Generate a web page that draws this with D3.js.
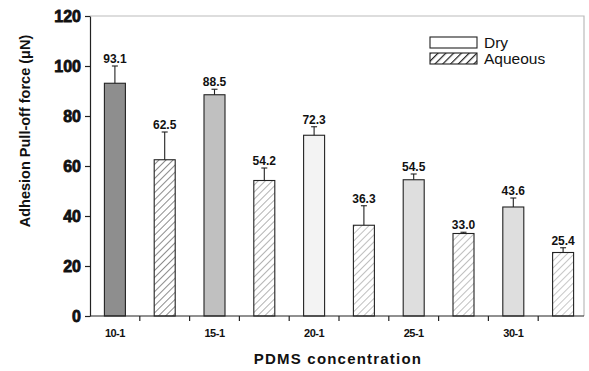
<!DOCTYPE html>
<html>
<head>
<meta charset="utf-8">
<script src="https://cdn.jsdelivr.net/npm/d3@7/dist/d3.min.js"></script>
<style>
  body { margin: 0; background: #fff; }
  svg { display: block; }
  text { font-family: "Liberation Sans", Arial, sans-serif; fill: #111; }
</style>
</head>
<body>
<svg id="chart" width="589" height="371"></svg>
<script>
// data
const concentrations = ["10-1", "15-1", "20-1", "25-1", "30-1"];
const dryValues = [93.1, 88.5, 72.3, 54.5, 43.6];
const dryErrors = [6.9, 2.2, 3.4, 2.3, 3.6];
const aqueousValues = [62.5, 54.2, 36.3, 33.0, 25.4];
const aqueousErrors = [11.1, 5.0, 7.8, 0.5, 1.9];
const yTicks = [0, 20, 40, 60, 80, 100, 120];
const seriesNames = ["Dry", "Aqueous"];

// styles
const dryFills = ["#8e8e8e", "#c0c0c0", "#f3f3f3", "#dedede", "#dedede"];
const hatchInk = ["#666", "#999", "#aaa", "#aaa", "#b4b4b4"];

const svg = d3.select("#chart");
const plotL = 90, plotR = 588, plotT = 16, plotB = 316;

// flatten into bar rows: dry then aqueous for each concentration
const bars = [];
concentrations.forEach((c, i) => {
  bars.push({ key: c + "-dry", type: "dry", i, value: dryValues[i], err: dryErrors[i] });
  bars.push({ key: c + "-aq", type: "aq", i, value: aqueousValues[i], err: aqueousErrors[i] });
});

const x = d3.scaleBand().domain(bars.map(d => d.key)).range([plotL, plotR]);
const y = d3.scaleLinear().domain([0, 120]).range([plotB, plotT]);
const barW = 21;

// hatch patterns
const defs = svg.append("defs");
function hatch(id, col, w, gap) {
  const p = defs.append("pattern")
    .attr("id", id)
    .attr("patternUnits", "userSpaceOnUse")
    .attr("width", gap).attr("height", gap)
    .attr("patternTransform", "rotate(45)");
  p.append("rect").attr("width", gap).attr("height", gap).attr("fill", "#fff");
  p.append("line").attr("x1", 0).attr("y1", 0).attr("x2", 0).attr("y2", gap)
    .attr("stroke", col).attr("stroke-width", w);
}
hatchInk.forEach((col, i) => hatch("hatch" + i, col, 1.5, 5));
hatch("hatchLegend", "#222", 2.4, 5.5);

// frame: top and right
svg.append("path")
  .attr("d", `M${plotL},${plotT}H584V${plotB}`)
  .attr("fill", "none").attr("stroke", "#bbb").attr("stroke-width", 1.2);

// bars
const cx = d => x(d.key) + x.bandwidth() / 2;
svg.append("g").selectAll("rect").data(bars).join("rect")
  .attr("x", d => cx(d) - barW / 2)
  .attr("width", barW)
  .attr("y", d => y(d.value))
  .attr("height", d => y(0) - y(d.value))
  .attr("fill", d => d.type === "dry" ? dryFills[d.i] : `url(#hatch${d.i})`)
  .attr("stroke", "#222").attr("stroke-width", 1.1);

// error bars (upper only)
const eb = svg.append("g").attr("stroke", "#222").attr("stroke-width", 1.1);
eb.selectAll("line.v").data(bars).join("line").attr("class", "v")
  .attr("x1", cx).attr("x2", cx)
  .attr("y1", d => y(d.value)).attr("y2", d => y(d.value + d.err));
eb.selectAll("line.c").data(bars).join("line").attr("class", "c")
  .attr("x1", d => cx(d) - 3).attr("x2", d => cx(d) + 3)
  .attr("y1", d => y(d.value + d.err)).attr("y2", d => y(d.value + d.err));

// value labels
svg.append("g").selectAll("text").data(bars).join("text")
  .attr("x", cx)
  .attr("y", d => y(d.value + d.err) - 3)
  .attr("text-anchor", "middle")
  .attr("font-size", 12).attr("font-weight", "bold")
  .text(d => d.value.toFixed(1));

// y axis
const yAxis = svg.append("g").attr("transform", `translate(${plotL},0)`)
  .call(d3.axisLeft(y).tickValues(yTicks).tickSize(5).tickSizeOuter(0));
yAxis.select(".domain").attr("stroke", "#222").attr("stroke-width", 1.2);
yAxis.selectAll(".tick line").attr("stroke", "#222").attr("stroke-width", 1.2);
yAxis.selectAll(".tick text")
  .attr("x", -9).attr("dy", "0.36em")
  .attr("font-size", 16).attr("font-weight", "bold")
  .attr("font-family", "'Liberation Sans', Arial, sans-serif")
  .attr("fill", "#111").attr("stroke", "#111").attr("stroke-width", 0.8);

// x axis: line with ticks at band boundaries
svg.append("line")
  .attr("x1", plotL).attr("x2", 584).attr("y1", plotB).attr("y2", plotB)
  .attr("stroke", "#222").attr("stroke-width", 1.2);
svg.append("g").selectAll("line").data(bars.slice(1)).join("line")
  .attr("x1", d => x(d.key)).attr("x2", d => x(d.key))
  .attr("y1", plotB).attr("y2", plotB + 5)
  .attr("stroke", "#222").attr("stroke-width", 1.2);
svg.append("g").selectAll("text").data(bars.filter(d => d.type === "dry")).join("text")
  .attr("x", cx).attr("y", 337)
  .attr("text-anchor", "middle")
  .attr("font-size", 11).attr("font-weight", "bold")
  .attr("letter-spacing", -0.5)
  .text(d => concentrations[d.i]);

// axis titles
svg.append("text")
  .attr("x", 338).attr("y", 364)
  .attr("text-anchor", "middle")
  .attr("font-size", 15).attr("font-weight", "bold")
  .attr("letter-spacing", 1.2)
  .text("PDMS concentration");
svg.append("text")
  .attr("transform", "translate(30,131) rotate(-90)")
  .attr("text-anchor", "middle")
  .attr("font-size", 14.5).attr("font-weight", "bold")
  .text("Adhesion Pull-off force (μN)");

// legend
const legend = svg.append("g").attr("transform", "translate(430,37)");
seriesNames.forEach((name, k) => {
  legend.append("rect")
    .attr("x", 0).attr("y", k * 16).attr("width", 47).attr("height", 11)
    .attr("fill", k === 0 ? "#fff" : "url(#hatchLegend)")
    .attr("stroke", "#222").attr("stroke-width", 1.1);
  legend.append("text")
    .attr("x", 54).attr("y", k * 16 + 11)
    .attr("font-size", 15.5)
    .text(name);
});
</script>
</body>
</html>
